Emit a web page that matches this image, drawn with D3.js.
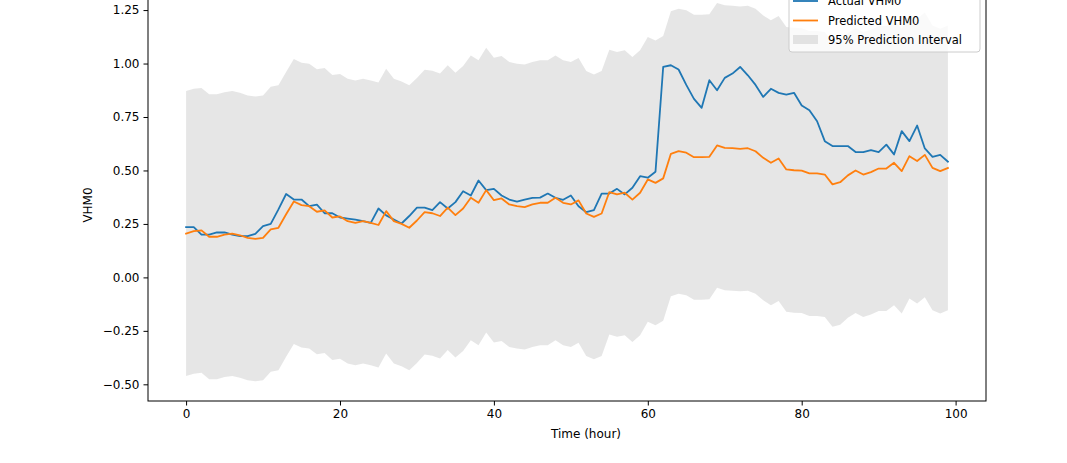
<!DOCTYPE html>
<html>
<head>
<meta charset="utf-8">
<script src="https://cdn.jsdelivr.net/npm/d3@7"></script>
<style>
    body { margin: 0; background: #fff; }
    svg { display: block; font-family: "DejaVu Sans", sans-serif; }
</style>
</head>
<body>
<svg role="chart" width="1067" height="463"></svg>
<script>
// hours 0..99
var hours = d3.range(0, 100);

var actual = [
    0.235, 0.235, 0.20, 0.20, 0.21, 0.21, 0.20, 0.193, 0.193, 0.204,
    0.24, 0.25, 0.318, 0.39, 0.364, 0.364, 0.333, 0.34, 0.30, 0.30,
    0.28, 0.275, 0.27, 0.263, 0.255, 0.322, 0.29, 0.271, 0.252, 0.287,
    0.326, 0.326, 0.315, 0.352, 0.322, 0.352, 0.403, 0.383, 0.453, 0.408,
    0.414, 0.383, 0.364, 0.354, 0.364, 0.372, 0.373, 0.392, 0.372, 0.363,
    0.383, 0.333, 0.305, 0.315, 0.392, 0.392, 0.414, 0.388, 0.419, 0.473,
    0.466, 0.494, 0.984, 0.992, 0.972, 0.90, 0.835, 0.793, 0.922, 0.875,
    0.933, 0.953, 0.984, 0.945, 0.90, 0.844, 0.882, 0.863, 0.855, 0.863,
    0.804, 0.782, 0.73, 0.637, 0.614, 0.614, 0.614, 0.586, 0.586, 0.595,
    0.586, 0.621, 0.575, 0.684, 0.637, 0.71, 0.603, 0.564, 0.573, 0.541
];

var predicted = [
    0.205, 0.216, 0.22, 0.19, 0.19, 0.20, 0.205, 0.197, 0.185, 0.18,
    0.185, 0.225, 0.232, 0.295, 0.355, 0.338, 0.333, 0.307, 0.313, 0.28,
    0.285, 0.263, 0.255, 0.263, 0.255, 0.245, 0.31, 0.263, 0.25, 0.232,
    0.266, 0.305, 0.30, 0.287, 0.326, 0.291, 0.322, 0.372, 0.349, 0.408,
    0.361, 0.369, 0.341, 0.333, 0.329, 0.341, 0.349, 0.349, 0.372, 0.349,
    0.341, 0.36, 0.299, 0.283, 0.299, 0.399, 0.388, 0.396, 0.364, 0.396,
    0.458, 0.442, 0.463, 0.578, 0.59, 0.583, 0.562, 0.562, 0.564, 0.617,
    0.606, 0.604, 0.601, 0.604, 0.59, 0.559, 0.536, 0.556, 0.505, 0.501,
    0.499, 0.486, 0.486, 0.481, 0.435, 0.445, 0.477, 0.50, 0.481, 0.492,
    0.509, 0.509, 0.536, 0.497, 0.567, 0.544, 0.573, 0.512, 0.497, 0.512
];

var upper = [
    0.871, 0.882, 0.886, 0.856, 0.856, 0.866, 0.871, 0.863, 0.851, 0.846,
    0.851, 0.891, 0.898, 0.961, 1.021, 1.004, 0.999, 0.973, 0.979, 0.946,
    0.951, 0.929, 0.921, 0.929, 0.921, 0.911, 0.976, 0.929, 0.916, 0.898,
    0.932, 0.971, 0.966, 0.953, 0.992, 0.957, 0.988, 1.038, 1.015, 1.074,
    1.027, 1.035, 1.007, 0.999, 0.995, 1.007, 1.015, 1.015, 1.038, 1.015,
    1.007, 1.026, 0.965, 0.949, 0.965, 1.065, 1.054, 1.062, 1.030, 1.062,
    1.124, 1.108, 1.129, 1.244, 1.256, 1.249, 1.228, 1.228, 1.230, 1.283,
    1.272, 1.270, 1.267, 1.270, 1.256, 1.225, 1.202, 1.222, 1.171, 1.167,
    1.165, 1.152, 1.152, 1.147, 1.101, 1.111, 1.143, 1.166, 1.147, 1.158,
    1.175, 1.175, 1.202, 1.163, 1.233, 1.210, 1.239, 1.178, 1.163, 1.178
];

var lower = [
    -0.461, -0.450, -0.446, -0.476, -0.476, -0.466, -0.461, -0.469, -0.481, -0.486,
    -0.481, -0.441, -0.434, -0.371, -0.311, -0.328, -0.333, -0.359, -0.353, -0.386,
    -0.381, -0.403, -0.411, -0.403, -0.411, -0.421, -0.356, -0.403, -0.416, -0.434,
    -0.400, -0.361, -0.366, -0.379, -0.340, -0.375, -0.344, -0.294, -0.317, -0.258,
    -0.305, -0.297, -0.325, -0.333, -0.337, -0.325, -0.317, -0.317, -0.294, -0.317,
    -0.325, -0.306, -0.367, -0.383, -0.367, -0.267, -0.278, -0.270, -0.302, -0.270,
    -0.208, -0.224, -0.203, -0.088, -0.076, -0.083, -0.104, -0.104, -0.102, -0.049,
    -0.060, -0.062, -0.065, -0.062, -0.076, -0.107, -0.130, -0.110, -0.161, -0.165,
    -0.167, -0.180, -0.180, -0.185, -0.231, -0.221, -0.189, -0.166, -0.185, -0.174,
    -0.157, -0.157, -0.130, -0.169, -0.099, -0.122, -0.093, -0.154, -0.169, -0.154
];

var xTicks = [0, 20, 40, 60, 80, 100];
var yTicks = [-0.50, -0.25, 0.00, 0.25, 0.50, 0.75, 1.00, 1.25];
var legendLabels = ['Actual VHM0', 'Predicted VHM0', '95% Prediction Interval'];

// axes box (top sits above the visible picture)
var box = { left: 148, right: 986, top: -17.3, bottom: 401 };

var svg = d3.select('[role="chart"]');

var x = d3.scaleLinear().domain([-4.95, 103.95]).range([box.left, box.right]);
var y = d3.scaleLinear().domain([-0.578, 1.378]).range([box.bottom, box.top]);

// prediction band
var band = d3.area()
    .x(function (d) { return x(d); })
    .y0(function (d, i) { return y(lower[i]); })
    .y1(function (d, i) { return y(upper[i]); });

svg.append('path')
    .datum(hours)
    .attr('d', band)
    .attr('fill', '#808080')
    .attr('fill-opacity', 0.2);

function drawLine(values, color) {
    var line = d3.line()
        .x(function (d) { return x(d); })
        .y(function (d, i) { return y(values[i]); });
    svg.append('path')
        .datum(hours)
        .attr('d', line)
        .attr('fill', 'none')
        .attr('stroke', color)
        .attr('stroke-width', 1.8)
        .attr('stroke-linejoin', 'round')
        .attr('stroke-linecap', 'square');
}

drawLine(actual, '#1f77b4');
drawLine(predicted, '#ff7f0e');

// axes
var xAxis = svg.append('g')
    .attr('transform', 'translate(0,' + box.bottom + ')')
    .call(d3.axisBottom(x).tickValues(xTicks).tickFormat(d3.format('d'))
        .tickSizeInner(4.5).tickSizeOuter(0).tickPadding(4));

var yAxis = svg.append('g')
    .attr('transform', 'translate(' + box.left + ',0)')
    .call(d3.axisLeft(y).tickValues(yTicks).tickFormat(d3.format('.2f'))
        .tickSizeInner(4.5).tickSizeOuter(0).tickPadding(4));

[xAxis, yAxis].forEach(function (ax) {
    ax.select('.domain').remove();
    ax.selectAll('line').attr('stroke', '#000').attr('stroke-width', 1);
    ax.selectAll('text').attr('fill', '#000').attr('font-size', 12)
        .attr('font-family', '"DejaVu Sans", sans-serif');
});

// frame
svg.append('rect')
    .attr('x', box.left)
    .attr('y', box.top)
    .attr('width', box.right - box.left)
    .attr('height', box.bottom - box.top)
    .attr('fill', 'none')
    .attr('stroke', '#000')
    .attr('stroke-width', 1);

// axis labels
svg.append('text')
    .attr('x', 586)
    .attr('y', 438)
    .attr('text-anchor', 'middle')
    .attr('font-size', 12)
    .text('Time (hour)');

svg.append('text')
    .attr('transform', 'translate(92,205) rotate(-90)')
    .attr('text-anchor', 'middle')
    .attr('font-size', 12)
    .text('VHM0');

// legend
var legend = svg.append('g').attr('transform', 'translate(789,-19)');
legend.append('rect')
    .attr('width', 191)
    .attr('height', 71)
    .attr('rx', 3)
    .attr('fill', '#fff')
    .attr('fill-opacity', 0.8)
    .attr('stroke', '#cccccc')
    .attr('stroke-width', 1);

var rowGap = 19.5;
legendLabels.forEach(function (label, i) {
    var cy = 20 + i * rowGap;
    if (i < 2) {
        legend.append('line')
            .attr('x1', 4).attr('x2', 29)
            .attr('y1', cy).attr('y2', cy)
            .attr('stroke', i === 0 ? '#1f77b4' : '#ff7f0e')
            .attr('stroke-width', 1.8);
    } else {
        legend.append('rect')
            .attr('x', 4).attr('y', cy - 5)
            .attr('width', 25).attr('height', 9)
            .attr('fill', '#808080')
            .attr('fill-opacity', 0.2);
    }
    legend.append('text')
        .attr('x', 39)
        .attr('y', cy + 4.1)
        .attr('font-size', 11.5)
        .text(label);
});
</script>
</body>
</html>
